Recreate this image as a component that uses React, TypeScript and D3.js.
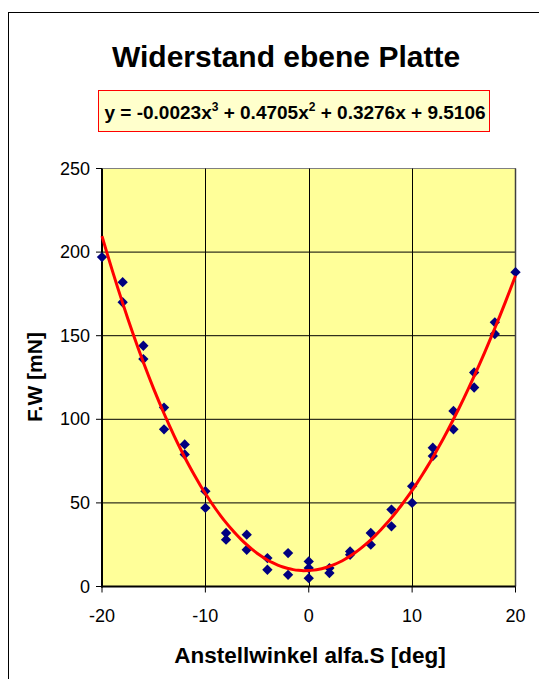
import React from "react";
import * as d3 from "d3";

// measured points (two or three readings per angle)
const angles = [
  -20, -18, -18, -16, -16, -14, -14, -12, -12, -10, -10, -8, -8, -6, -6, -4, -4, -2, -2,
  0, 0, 0, 2, 2, 4, 4, 6, 6, 8, 8, 10, 10, 12, 12, 14, 14, 16, 16, 18, 18, 20,
];
const forces = [
  197, 182, 170, 144, 136, 107, 94, 85, 79, 57, 47, 32, 28, 31, 22, 17, 10, 20, 7,
  15, 11, 5, 11, 8, 21, 19, 32, 25, 46, 36, 60, 50, 83, 78, 105, 94, 128, 119, 158, 151, 188,
];

// trendline coefficients as printed in the label (x^3, x^2, x, 1)
const coeffs = [-0.0023, 0.4705, 0.3276, 9.5106];

const xTicks = [-20, -10, 0, 10, 20];
const yTicks = [0, 50, 100, 150, 200, 250];

const title = "Widerstand ebene Platte";
const xTitle = "Anstellwinkel alfa.S [deg]";
const yTitle = "F.W [mN]";

const W = 539;
const H = 679;
const font = "'Liberation Sans', Arial, sans-serif";

const App = () => {
  const x = d3.scaleLinear().domain([-20, 20]).range([102, 515.5]);
  const y = d3.scaleLinear().domain([0, 250]).range([586.5, 168.5]);

  const poly = (v: number) =>
    coeffs[0] * v * v * v + coeffs[1] * v * v + coeffs[2] * v + coeffs[3];
  const trend = d3.range(-20, 20.001, 0.5).map((v) => [v, poly(v)] as [number, number]);
  const line = d3
    .line<[number, number]>()
    .x((d) => x(d[0]))
    .y((d) => y(d[1]))
    .curve(d3.curveMonotoneX);

  const diamond = d3.symbol().type(d3.symbolDiamond2).size(68)();

  const [x0, x1] = x.range();
  const [y0, y1] = y.range();

  return (
    <svg
      width={W}
      height={H}
      style={{ position: "absolute", left: 0, top: 0, background: "#fff" }}
      fontFamily={font}
    >
      {/* chart frame */}
      <rect x={8.5} y={12.5} width={W + 20} height={H + 20} fill="#fff" stroke="#000" />

      <text x={286} y={67} textAnchor="middle" fontSize={30} fontWeight="bold">
        {title}
      </text>

      {/* equation label */}
      <rect x={98.5} y={90.5} width={391} height={41} fill="#FFFFCC" stroke="#FF0000" />
      <text x={295} y={119} textAnchor="middle" fontSize={19} fontWeight="bold">
        y = -0.0023x<tspan dy={-8} fontSize={12}>3</tspan>
        <tspan dy={8}> + 0.4705x</tspan>
        <tspan dy={-8} fontSize={12}>2</tspan>
        <tspan dy={8}> + 0.3276x + 9.5106</tspan>
      </text>

      {/* plot area */}
      <rect x={x0} y={y1} width={x1 - x0} height={y0 - y1} fill="#FFFF99" stroke="#808080" />

      {yTicks.slice(1, -1).map((t) => (
        <line key={"gy" + t} x1={x0} x2={x1} y1={y(t)} y2={y(t)} stroke="#000" strokeWidth={1} />
      ))}
      {xTicks.slice(1, -1).map((t) => (
        <line key={"gx" + t} x1={Math.round(x(t)) + 0.5} x2={Math.round(x(t)) + 0.5} y1={y1} y2={y0} stroke="#000" />
      ))}
      <line x1={x1} x2={x1} y1={y1} y2={y0} stroke="#404040" strokeWidth={1.5} />

      {/* axes */}
      <line x1={x0} x2={x0} y1={y1} y2={y0 + 1} stroke="#000" strokeWidth={2} />
      <line x1={x0 - 1} x2={x1} y1={y0} y2={y0} stroke="#000" strokeWidth={2} />
      {yTicks.map((t) => (
        <g key={"ty" + t}>
          <line x1={x0 - 6} x2={x0} y1={y(t)} y2={y(t)} stroke="#000" />
          <text x={x0 - 12} y={y(t) + 6} textAnchor="end" fontSize={18}>
            {t}
          </text>
        </g>
      ))}
      {xTicks.map((t) => (
        <g key={"tx" + t}>
          <line x1={x(t)} x2={x(t)} y1={y0} y2={y0 + 6} stroke="#000" />
          <text x={x(t)} y={622} textAnchor="middle" fontSize={18}>
            {t}
          </text>
        </g>
      ))}

      <text x={310} y={663} textAnchor="middle" fontSize={22.5} fontWeight="bold">
        {xTitle}
      </text>
      <text
        transform={`translate(42, 377) rotate(-90)`}
        textAnchor="middle"
        fontSize={21}
        fontWeight="bold"
      >
        {yTitle}
      </text>

      {/* measured points */}
      {angles.map((a, i) => (
        <path key={"p" + i} d={diamond} transform={`translate(${x(a)},${y(forces[i])})`} fill="#000080" />
      ))}

      {/* trendline */}
      <path d={line(trend) || ""} fill="none" stroke="#FF0000" strokeWidth={3} />
    </svg>
  );
};

export default App;
